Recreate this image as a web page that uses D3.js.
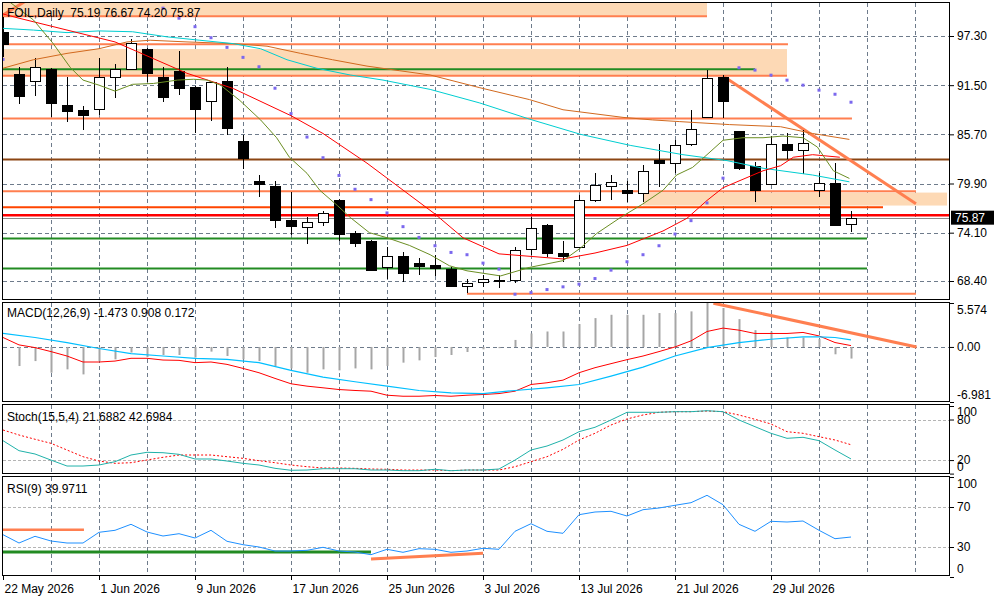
<!DOCTYPE html>
<html>
<head>
<meta charset="utf-8">
<script src="https://cdn.jsdelivr.net/npm/d3@7"></script>
<style>
body { margin: 0; background: #fff; }
svg text { font-family: "Liberation Sans", Arial, sans-serif; font-size: 12px; fill: #000; }
</style>
</head>
<body>
<svg id="chart" width="1000" height="600"></svg>
<script>
const symbol = "FOIL,Daily";

const dates = [
    "2026-05-22", "2026-05-25", "2026-05-26", "2026-05-27", "2026-05-28", "2026-05-29",
    "2026-06-01", "2026-06-02", "2026-06-03", "2026-06-04", "2026-06-05", "2026-06-08",
    "2026-06-09", "2026-06-10", "2026-06-11", "2026-06-12", "2026-06-15", "2026-06-16",
    "2026-06-17", "2026-06-18", "2026-06-19", "2026-06-22", "2026-06-23", "2026-06-24",
    "2026-06-25", "2026-06-26", "2026-06-29", "2026-06-30", "2026-07-01", "2026-07-02",
    "2026-07-03", "2026-07-06", "2026-07-07", "2026-07-08", "2026-07-09", "2026-07-10",
    "2026-07-13", "2026-07-14", "2026-07-15", "2026-07-16", "2026-07-17", "2026-07-20",
    "2026-07-21", "2026-07-22", "2026-07-23", "2026-07-24", "2026-07-27", "2026-07-28",
    "2026-07-29", "2026-07-30", "2026-07-31", "2026-08-03", "2026-08-04", "2026-08-05"
];
const tickBars = [0, 6, 12, 18, 24, 30, 36, 42, 48];

const open = [97.74, 92.80, 91.99, 93.35, 89.13, 88.54, 88.62, 92.41, 93.35, 95.76, 92.49, 93.16,
    91.26, 89.57, 91.97, 84.87, 80.14, 79.66, 75.56, 74.77, 75.36, 78.00, 74.06, 73.07,
    70.00, 71.34, 70.55, 70.31, 69.80, 67.90, 68.22, 68.50, 68.50, 72.17, 75.01, 71.69,
    72.44, 77.93, 79.62, 79.15, 78.75, 82.62, 82.35, 84.59, 87.67, 92.49, 86.05, 81.91,
    79.86, 84.59, 83.88, 79.15, 79.98, 75.19];
const high = [99.55, 93.67, 94.66, 93.47, 92.49, 89.01, 94.66, 93.99, 96.94, 95.84, 93.67, 95.56,
    91.38, 91.90, 93.59, 85.62, 80.89, 80.14, 78.87, 75.91, 76.70, 78.08, 74.34, 73.23,
    72.44, 71.77, 71.06, 71.46, 70.00, 68.61, 69.13, 69.13, 72.36, 75.99, 75.09, 73.07,
    78.56, 81.16, 80.85, 80.22, 82.03, 84.52, 85.00, 88.54, 93.28, 92.68, 86.05, 82.43,
    85.46, 85.86, 86.17, 81.16, 82.31, 76.67];
const low = [94.81, 89.25, 90.24, 87.75, 87.16, 86.17, 87.95, 90.00, 93.30, 91.86, 89.53, 90.32,
    85.86, 87.28, 85.62, 81.60, 78.28, 74.61, 73.86, 72.76, 74.85, 73.07, 72.36, 69.60,
    68.61, 68.30, 69.13, 69.01, 67.71, 66.96, 67.71, 67.63, 68.22, 71.50, 71.26, 70.59,
    72.36, 77.69, 78.00, 77.73, 77.69, 79.46, 81.16, 84.32, 87.59, 87.59, 81.52, 77.69,
    79.78, 82.82, 80.97, 78.28, 74.93, 74.20];
const close = [96.35, 90.24, 93.59, 89.29, 88.46, 87.99, 92.41, 93.35, 96.43, 92.88, 90.12, 91.18,
    88.62, 91.82, 86.37, 82.90, 79.74, 75.68, 74.85, 75.36, 76.47, 73.94, 72.84, 69.68,
    71.34, 69.29, 70.19, 69.96, 67.83, 68.22, 68.61, 68.42, 72.05, 74.65, 71.65, 71.38,
    77.97, 79.74, 80.06, 78.79, 81.40, 82.31, 84.48, 86.37, 92.29, 89.65, 81.71, 79.07,
    84.59, 83.88, 84.67, 79.98, 75.01, 75.87];

// moving averages: [bar, price]
const maRed = [[0, 99.9], [1, 99.4], [7, 96.6], [11.5, 92.9], [14.4, 91.1], [18, 87.9], [20, 85.8],
    [22.75, 82.3], [27, 76.3], [28.75, 73.5], [31, 71.6], [33, 71.3], [35, 71.0], [37, 71.7],
    [39, 72.6], [41.25, 74.3], [42.75, 75.8], [44, 77.9], [45, 79.4], [46.5, 80.6], [47.5, 81.4],
    [48.6, 82.0], [49.4, 83.0], [50.6, 83.3], [52.3, 83.0]];
const maOlive = [[0, 101.9], [1.9, 99.2], [3.1, 96.5], [4.2, 93.6], [5, 92.1], [6, 91.5], [7, 90.8],
    [8.1, 91.6], [9.4, 91.7], [10.9, 92.1], [11.9, 92.2], [12.75, 92.1], [13.6, 91.5], [14.8, 89.7],
    [16.1, 87.4], [17.1, 85.3], [17.9, 83.0], [19, 81.1], [19.8, 79.1], [20.9, 77.3], [21.7, 75.9],
    [22.9, 74.1], [24, 73.5], [25.4, 72.6], [26.7, 71.5], [27.9, 70.2], [29, 69.6], [31.1, 69.0],
    [32.9, 70.0], [35, 70.8], [36.1, 72.3], [37.1, 74.0], [38.6, 75.9], [40, 77.5], [41.25, 79.1],
    [42.1, 80.9], [43.1, 81.8], [44, 83.3], [45, 85.0], [46.25, 85.3], [47.5, 85.3], [48.75, 85.5],
    [50, 85.3], [50.9, 84.2], [51.9, 81.4], [52.9, 80.5]];
const maCyan = [[0, 98.2], [1.9, 98.0], [4, 97.7], [6, 97.9], [8.1, 97.8], [10.25, 97.2], [12.3, 96.8],
    [14.4, 96.4], [16.1, 95.8], [17.75, 94.5], [19.6, 93.5], [21.7, 92.7], [23.75, 92.1], [26.7, 91.0],
    [29.8, 89.4], [32.9, 87.5], [36.1, 85.7], [39.2, 84.4], [42.5, 83.3], [45.25, 82.6], [47.5, 81.7],
    [50.6, 80.9], [52.9, 80.1]];
const maOrange = [[0, 93.5], [1.9, 94.5], [4, 95.25], [6, 95.8], [7.75, 96.6], [9.2, 96.8], [11.5, 96.6],
    [14.4, 96.4], [16.5, 96.1], [18.6, 95.25], [20.6, 94.5], [22.75, 93.75], [24.8, 93.2], [26.7, 92.7],
    [29.8, 91.2], [32.9, 89.8], [35, 88.6], [38.75, 87.7], [40.6, 87.4], [42.3, 87.2], [45.4, 86.85],
    [48.6, 86.6], [50.6, 85.8], [52.9, 85.1]];

const sar = [94.54, null, null, null, null, null, null, null, null, null,
    100.58, 99.40, 98.40, 97.10, 95.96, 94.78, 93.67, 91.14, 88.15, 85.38, 82.94, 80.85,
    79.22, 78.00, 76.43, 74.81, 73.54, 72.56, 71.77, 71.50, 70.51, 69.80, 66.84, 67.03,
    67.39, 67.71, 68.03, 68.69, 69.68, 70.67, 71.50, 72.56, 73.94, 75.52, 77.61, 80.53,
    93.55, 93.28, 92.68, 92.09, 91.50, 90.91, 90.43, 89.49];

// drawn objects: [price, fromBar, toBar] and zones [low, high, fromBar, toBar]
const coralLevels = [[99.63, 0, 44], [96.32, 0, 49.06], [92.60, 0, 49], [87.56, 0, 53.06],
    [78.99, 0, 57.06], [66.91, 29, 57.06]];
const greenLevels = [[93.39, 0, 47], [73.42, 0, 54], [69.87, 0, 54]];
const brownLevels = [[82.74, 0, 59.2]];
const orangeRedLevels = [[77.09, 0, 55]];
const redLevels = [[76.17, 0, 59.2]];
const zones = [[99.63, 101.5, 0, 44], [92.65, 95.76, 0, 49], [77.30, 78.83, 40, 59]];
const priceTrends = [[45, 92.57, 57.06, 77.50], [0, 99.79, 2, 102.1]];

const priceTicks = [68.40, 74.10, 79.90, 85.70, 91.50, 97.30];

const macdHist = [null, -2.42, -1.79, -3.27, -2.84, -3.48, -1.79, -1.57, -0.71, -1.28, -1.02, -1.02,
    -1.35, -0.59, -1.15, -1.57, -1.79, -2.42, -2.72, -3.27, -2.84, -2.97, -2.72, -2.84,
    -2.42, -1.99, -1.70, -1.28, -1.02, -0.64, -0.30, -0.15, 0.89, 1.71, 1.96, 1.96,
    2.90, 3.66, 4.08, 4.08, 4.08, 4.30, 4.30, 4.51, 5.574, 4.94, 3.53, 2.13,
    1.96, 1.20, 1.20, 1.00, -0.93, -1.473];
const macdRed = [1.20, 0.26, -0.08, -0.59, -1.15, -1.91, -1.91, -1.79, -1.44, -1.44, -1.66, -1.70,
    -1.99, -1.91, -2.21, -2.72, -3.27, -3.99, -4.67, -4.97, -5.18, -5.40, -5.52, -5.61,
    -6.12, -6.25, -6.25, -6.16, -6.25, -6.12, -6.03, -5.91, -5.61, -4.76, -4.54, -4.21,
    -3.27, -2.63, -2.12, -1.61, -1.15, -0.59, 0.00, 0.77, 1.96, 2.39, 2.13, 1.71,
    1.71, 1.71, 1.84, 1.40, 0.56, 0.172];
const macdCyan = [[0, 1.71], [2, 1.20], [4, 0.56], [6, -0.20], [8, -0.84], [10, -1.15], [12, -1.44],
    [14, -1.57], [16, -1.99], [18, -2.97], [20, -3.83], [22, -4.41], [24, -4.97], [26, -5.52],
    [28, -5.82], [30, -5.91], [32, -5.52], [34, -5.18], [36, -4.76], [38, -3.70], [40, -2.55],
    [42, -1.15], [44, -0.08], [46, 0.56], [48, 0.98], [50, 1.28], [51, 1.28], [52, 1.20], [53, 0.908]];
const macdTrend = [[44.4, 5.55, 57.1, 0]];
const macdTicks = [-6.981, 0, 5.574];

const stochMain = [48.7, 33.9, 29, 20, 11.2, 11.2, 12.7, 17.6, 27.5, 31.5, 30.9, 28.5,
    21.6, 21.6, 18.6, 15.2, 12.7, 7.8, 4.9, 5.3, 7.2, 7.2, 7.2, 5.3,
    5.3, 4.3, 4.3, 6.4, 4.3, 5.3, 5.3, 6.8, 20, 34.9, 40.8, 49.7,
    62, 68.5, 79.3, 90.7, 90.7, 90.7, 91.6, 91.6, 93, 91.6, 79.3, 69.4,
    59.6, 52.2, 53.7, 48.7, 34.9, 21.6882];
const stochSignal = [64.5, 57.1, 50.8, 44.8, 34.9, 25, 18.6, 15.2, 16.1, 20.1, 24.1, 27.5,
    27.5, 27.5, 25, 22.6, 19.1, 16.1, 12.7, 10.2, 8.3, 8.3, 7.8, 6.8,
    6.4, 5.3, 5.3, 5.3, 4.3, 5.3, 5.3, 5.3, 10.2, 17.6, 25, 35.9,
    49.7, 59.6, 71.9, 80.8, 86.7, 90.7, 91.6, 91.6, 92.6, 91.6, 86.7, 80.3,
    73.4, 62, 59.6, 54.6, 49.7, 42.6984];
const stochTicks = [0, 20, 80, 100];
const stochLevels = [20, 80];

const rsi = [42.3, 34, 40.7, 36, 34, 34, 44.7, 46.7, 52.7, 45, 41, 43.3,
    39, 46.7, 35.7, 32.3, 30, 26, 26, 26.7, 29.7, 26, 25, 22.3,
    27.7, 24.7, 28.3, 27.7, 24.7, 26, 28.7, 27.7, 45.7, 53.3, 45.7, 43.7,
    62.3, 65, 65.7, 61, 67.3, 69, 71.7, 74.3, 81.7, 72.3, 52.7, 45.7,
    55.7, 55, 56, 46.7, 38.3, 39.9711];
const rsiTicks = [0, 30, 70, 100];
const rsiLevels = [30, 70];
const rsiCoral = [[47.3, 0, 5.06]];
const rsiGreen = [[25, 0, 23]];
const rsiTrends = [[23, 18, 30, 23.7]];

// ---------------------------------------------------------------
const svg = d3.select("#chart");
const xLeft = 3, xRight = 950;
const gridColor = "#6e7b8b";
const coral = "#ff7f50";
const n = close.length;

const x = d3.scaleLinear().domain([0, 59.1875]).range([xLeft, xRight]);

const yPrice = d3.scaleLinear().domain([68.40, 97.30]).range([281, 36]);
const yMacd = d3.scaleLinear().domain([-6.981, 5.574]).range([402, 303]);
const yStoch = d3.scaleLinear().domain([0, 100]).range([473.6, 406]);
const yRsi = d3.scaleLinear().domain([0, 100]).range([577, 477]);

const panes = [
    {id: "price", top: 3, bottom: 300},
    {id: "macd", top: 303, bottom: 402},
    {id: "stoch", top: 405, bottom: 474},
    {id: "rsi", top: 477, bottom: 576}
];

function makePane(p) {
    svg.append("clipPath").attr("id", "clip-" + p.id)
        .append("rect")
        .attr("x", xLeft).attr("y", p.top)
        .attr("width", xRight - xLeft).attr("height", p.bottom - p.top);
    const g = svg.append("g").attr("clip-path", "url(#clip-" + p.id + ")");
    g.selectAll(".vgrid")
        .data(d3.range(3, 58, 3))
        .enter().append("line")
        .attr("x1", d => x(d) + 0.5).attr("x2", d => x(d) + 0.5)
        .attr("y1", p.top).attr("y2", p.bottom)
        .attr("stroke", gridColor)
        .attr("stroke-dasharray", "4,3")
        .attr("shape-rendering", "crispEdges");
    return g;
}

function hGrid(g, y, values, color, dash) {
    g.selectAll(null)
        .data(values)
        .enter().append("line")
        .attr("x1", xLeft).attr("x2", xRight)
        .attr("y1", d => Math.round(y(d)) + 0.5).attr("y2", d => Math.round(y(d)) + 0.5)
        .attr("stroke", color)
        .attr("stroke-dasharray", dash)
        .attr("shape-rendering", "crispEdges");
}

function levels(g, y, data, color, width) {
    g.selectAll(null)
        .data(data)
        .enter().append("line")
        .attr("x1", d => x(d[1])).attr("x2", d => x(d[2]))
        .attr("y1", d => y(d[0])).attr("y2", d => y(d[0]))
        .attr("stroke", color)
        .attr("stroke-width", width);
}

function trends(g, y, data, color, width) {
    g.selectAll(null)
        .data(data)
        .enter().append("line")
        .attr("x1", d => x(d[0])).attr("y1", d => y(d[1]))
        .attr("x2", d => x(d[2])).attr("y2", d => y(d[3]))
        .attr("stroke", color)
        .attr("stroke-width", width);
}

function pairLine(g, y, data, color, width) {
    g.append("path")
        .datum(data)
        .attr("fill", "none")
        .attr("stroke", color)
        .attr("stroke-width", width)
        .attr("d", d3.line().x(d => x(d[0])).y(d => y(d[1])));
}

function barLine(g, y, data, color, width, dash) {
    g.append("path")
        .datum(data)
        .attr("fill", "none")
        .attr("stroke", color)
        .attr("stroke-width", width)
        .attr("stroke-dasharray", dash || null)
        .attr("d", d3.line().defined(d => d != null).x((d, i) => x(i)).y(d => y(d)));
}

function rightAxis(y, ticks, fmt, top, bottom) {
    const g = svg.append("g")
        .attr("transform", "translate(" + xRight + ",0)")
        .call(d3.axisRight(y).tickValues(ticks).tickSize(4).tickPadding(3).tickFormat(fmt));
    g.select(".domain").remove();
    g.attr("font-size", null).attr("font-family", null);
    g.selectAll("line").attr("stroke", "#000");
    if (top != null) {
        g.selectAll("text")
            .attr("y", d => Math.max(top + 7, Math.min(bottom - 7, y(d))) - y(d));
    }
    return g;
}

// ---------- price pane ----------
const pg = makePane(panes[0]);
hGrid(pg, yPrice, priceTicks, gridColor, "4,3");

pg.selectAll(".zone")
    .data(zones)
    .enter().append("rect")
    .attr("x", d => x(d[2]))
    .attr("width", d => x(d[3]) - x(d[2]))
    .attr("y", d => yPrice(d[1]))
    .attr("height", d => yPrice(d[0]) - yPrice(d[1]))
    .attr("fill", "#fdd9b5");

levels(pg, yPrice, coralLevels, coral, 2);
levels(pg, yPrice, brownLevels, "#8b4513", 2);
levels(pg, yPrice, greenLevels, "#228b22", 2);
levels(pg, yPrice, orangeRedLevels, "#ff4500", 2);
levels(pg, yPrice, redLevels, "#ff0000", 2.5);
trends(pg, yPrice, priceTrends, coral, 3);

pg.append("line")
    .attr("x1", xLeft).attr("x2", xRight)
    .attr("y1", Math.round(yPrice(close[n - 1])) + 0.5)
    .attr("y2", Math.round(yPrice(close[n - 1])) + 0.5)
    .attr("stroke", "#8c8c8c")
    .attr("shape-rendering", "crispEdges");

// candles
const bars = d3.range(n);
pg.selectAll(".wick")
    .data(bars)
    .enter().append("line")
    .attr("x1", i => x(i) + 0.5).attr("x2", i => x(i) + 0.5)
    .attr("y1", i => yPrice(high[i])).attr("y2", i => yPrice(low[i]))
    .attr("stroke", "#000")
    .attr("shape-rendering", "crispEdges");
pg.selectAll(".body")
    .data(bars)
    .enter().append("rect")
    .attr("x", i => x(i) - 4.5)
    .attr("width", 10)
    .attr("y", i => Math.round(yPrice(Math.max(open[i], close[i]))) + 0.5)
    .attr("height", i => Math.max(0, Math.round(Math.abs(yPrice(open[i]) - yPrice(close[i])))))
    .attr("fill", i => close[i] >= open[i] ? "#fff" : "#000")
    .attr("stroke", "#000")
    .attr("shape-rendering", "crispEdges");

pairLine(pg, yPrice, maOrange, "#d2691e", 1);
pairLine(pg, yPrice, maCyan, "#00ced1", 1);
pairLine(pg, yPrice, maRed, "#ff0000", 1);
pairLine(pg, yPrice, maOlive, "#6b8e23", 1);

pg.selectAll(".sar")
    .data(bars.filter(i => sar[i] != null))
    .enter().append("rect")
    .attr("x", i => x(i) - 1.5)
    .attr("y", i => yPrice(sar[i]) - 1.5)
    .attr("width", 3).attr("height", 3)
    .attr("fill", "#7b68ee");

const fmt2 = d => d.toFixed(2);
pg.append("text")
    .attr("x", 7).attr("y", 17)
    .attr("xml:space", "preserve")
    .text(symbol + "  " + [open[n - 1], high[n - 1], low[n - 1], close[n - 1]].map(fmt2).join(" "));

rightAxis(yPrice, priceTicks, fmt2);

const lastY = yPrice(close[n - 1]);
svg.append("rect")
    .attr("x", xRight + 1).attr("y", lastY - 7)
    .attr("width", 43).attr("height", 14)
    .attr("fill", "#000");
svg.append("text")
    .attr("x", xRight + 5).attr("y", lastY + 4.5)
    .style("fill", "#fff")
    .text(fmt2(close[n - 1]));

// ---------- MACD pane ----------
const mg = makePane(panes[1]);
hGrid(mg, yMacd, [0], gridColor, "4,3");
mg.selectAll(".hist")
    .data(bars.filter(i => macdHist[i] != null))
    .enter().append("line")
    .attr("x1", i => x(i) + 0.5).attr("x2", i => x(i) + 0.5)
    .attr("y1", yMacd(0)).attr("y2", i => yMacd(macdHist[i]))
    .attr("stroke", "#a6a6a6")
    .attr("stroke-width", 2);
barLine(mg, yMacd, macdRed, "#ff0000", 1);
pairLine(mg, yMacd, macdCyan, "#00bfff", 1.2);
trends(mg, yMacd, macdTrend, coral, 3);
mg.append("text")
    .attr("x", 7).attr("y", 317)
    .text("MACD(12,26,9) " + [macdHist[n - 1].toFixed(3), macdCyan[macdCyan.length - 1][1].toFixed(3), macdRed[n - 1].toFixed(3)].join(" "));
rightAxis(yMacd, macdTicks, d => d === 0 ? "0.00" : d.toFixed(3), panes[1].top, panes[1].bottom);

// ---------- Stochastic pane ----------
const sg = makePane(panes[2]);
hGrid(sg, yStoch, stochLevels, "#b4b4b4", "3,2");
barLine(sg, yStoch, stochSignal, "#ff0000", 1, "2,2");
barLine(sg, yStoch, stochMain, "#20b2aa", 1);
sg.append("text")
    .attr("x", 7).attr("y", 421)
    .text("Stoch(15,5,4) " + stochMain[n - 1].toFixed(4) + " " + stochSignal[n - 1].toFixed(4));
rightAxis(yStoch, stochTicks, d => String(d), panes[2].top, panes[2].bottom);

// ---------- RSI pane ----------
const rg = makePane(panes[3]);
hGrid(rg, yRsi, rsiLevels, "#b4b4b4", "3,2");
levels(rg, yRsi, rsiCoral, coral, 2.5);
levels(rg, yRsi, rsiGreen, "#228b22", 3);
trends(rg, yRsi, rsiTrends, coral, 3);
barLine(rg, yRsi, rsi, "#1e90ff", 1);
rg.append("text")
    .attr("x", 7).attr("y", 493)
    .text("RSI(9) " + rsi[n - 1].toFixed(4));
rightAxis(yRsi, rsiTicks, d => String(d), panes[3].top, panes[3].bottom);

// frames
svg.selectAll(".frame")
    .data(panes)
    .enter().append("rect")
    .attr("x", xLeft - 0.5).attr("y", p => p.top - 0.5)
    .attr("width", xRight - xLeft).attr("height", p => p.bottom - p.top)
    .attr("fill", "none")
    .attr("stroke", "#000")
    .attr("shape-rendering", "crispEdges");

// date axis
const parse = d3.timeParse("%Y-%m-%d");
const dateFmt = d3.timeFormat("%-d %b %Y");
const xa = svg.append("g")
    .attr("transform", "translate(0," + panes[3].bottom + ")")
    .call(d3.axisBottom(x).tickValues(tickBars).tickSize(4).tickPadding(4)
        .tickFormat(i => dateFmt(parse(dates[i]))));
xa.select(".domain").remove();
xa.attr("font-size", null).attr("font-family", null);
xa.selectAll("line").attr("stroke", "#000");
xa.selectAll("text").attr("text-anchor", "start").attr("x", 1);
</script>
</body>
</html>
